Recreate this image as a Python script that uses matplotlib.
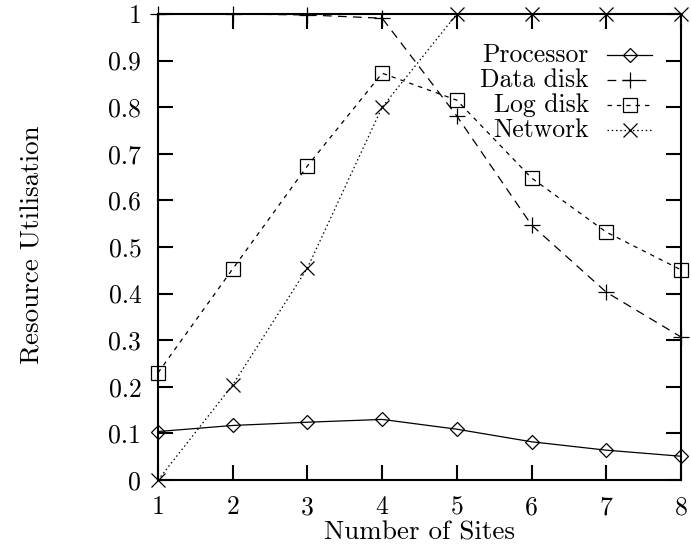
import matplotlib
matplotlib.use("Agg")
import matplotlib.pyplot as plt
from matplotlib.lines import Line2D

sites = [1, 2, 3, 4, 5, 6, 7, 8]
processor = [0.104, 0.117, 0.124, 0.130, 0.109, 0.082, 0.064, 0.051]
data_disk = [1.0, 1.0, 0.998, 0.991, 0.781, 0.547, 0.403, 0.307]
log_disk = [0.230, 0.453, 0.674, 0.873, 0.815, 0.648, 0.532, 0.451]
network = [0.0, 0.204, 0.455, 0.800, 1.0, 1.0, 1.0, 1.0]

series_names = ["Processor", "Data disk", "Log disk", "Network"]
y_ticks = [0, 0.1, 0.2, 0.3, 0.4, 0.5, 0.6, 0.7, 0.8, 0.9, 1.0]
y_tick_labels = ["0", "0.1", "0.2", "0.3", "0.4", "0.5", "0.6", "0.7", "0.8", "0.9", "1"]

plt.rcParams["font.family"] = ["cmr10", "DejaVu Serif"]
plt.rcParams["axes.formatter.use_mathtext"] = True

W, H = 691, 546
fig = plt.figure(figsize=(W / 100, H / 100), dpi=100)
ax = fig.add_axes([158 / W, 1 - 480 / H, (681 - 158) / W, (480 - 14) / H])

styles = [
    dict(marker="D", ms=7.6, ls="-"),
    dict(marker="+", ms=11.5, ls=(0, (7, 5))),
    dict(marker="s", ms=10, ls=(0, (3.5, 4))),
    dict(marker="x", ms=10, ls=(0, (1.2, 2.2))),
]
values = [processor, data_disk, log_disk, network]

for vals, st in zip(values, styles):
    ax.plot(sites, vals, color="black", lw=0.9, marker=st["marker"], ms=st["ms"],
            ls=st["ls"], mfc="none", mec="black", mew=0.9, clip_on=False, zorder=3)

ax.set_xlim(1, 8)
ax.set_ylim(0, 1)
ax.set_xticks(sites)
ax.set_xticklabels([str(s) for s in sites])
ax.set_yticks(y_ticks)
ax.set_yticklabels(y_tick_labels)

fs = 18.5
for sp in ax.spines.values():
    sp.set_linewidth(1.5)
ax.tick_params(axis="both", direction="in", length=10.5, width=1.5,
               top=True, right=True, labelsize=fs)
ax.tick_params(axis="y", pad=12)
ax.tick_params(axis="x", pad=11)

ax.set_xlabel("Number of Sites", fontsize=19.5, labelpad=1)
fig.text(33 / W, 1 - 245 / H, "Resource Utilisation", rotation=90,
         ha="center", va="center", fontsize=19.5)

# key in the upper right, text right-aligned to the left of each sample
to_ax = ax.transAxes.inverted()
def px(x, y):
    return to_ax.transform(fig.transFigure.transform((x / W, 1 - y / H)))

for i, (name, st) in enumerate(zip(series_names, styles)):
    yp = 55 + 25 * i
    tx, ty = px(589, yp)
    ax.text(tx, ty, name, transform=ax.transAxes, ha="right", va="center",
            fontsize=fs, zorder=5)
    x0, yy = px(607, yp)
    x1, _ = px(652, yp)
    xm, _ = px(630, yp)
    ax.add_line(Line2D([x0, x1], [yy, yy], transform=ax.transAxes, color="black",
                       lw=0.9, ls=st["ls"], clip_on=False))
    ax.add_line(Line2D([xm], [yy], transform=ax.transAxes, color="black",
                       marker=st["marker"], ms=st["ms"], mfc="none", mew=0.9,
                       ls="none", clip_on=False))

fig.savefig("out.png", dpi=100)
